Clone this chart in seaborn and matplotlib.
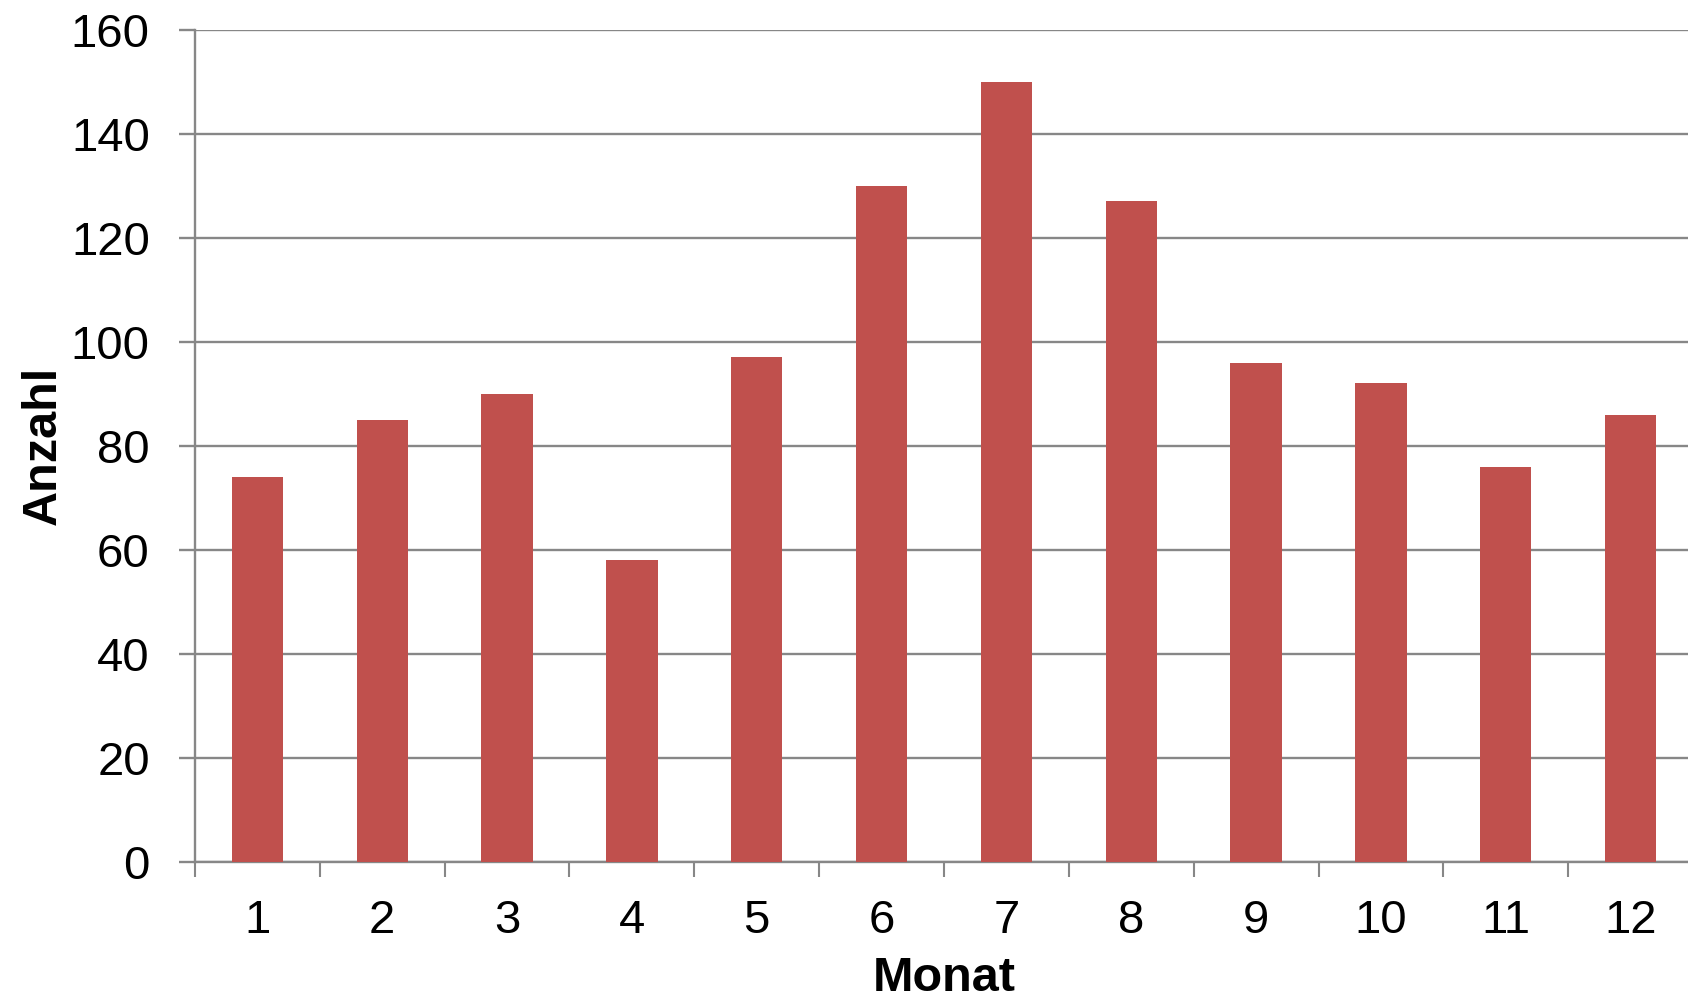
import matplotlib
matplotlib.use("Agg")
import matplotlib.pyplot as plt
import numpy as np
import pandas as pd
import seaborn as sns

months = ["1", "2", "3", "4", "5", "6", "7", "8", "9", "10", "11", "12"]
counts = [74, 85, 90, 58, 97, 130, 150, 127, 96, 92, 76, 86]
y_ticks = [0, 20, 40, 60, 80, 100, 120, 140, 160]

bar_color = "#C0504D"
grid_color = "#878787"

sns.set_style("white")
plt.rcParams["font.family"] = ["Liberation Sans", "DejaVu Sans"]
plt.rcParams["text.color"] = "black"
plt.rcParams["axes.labelcolor"] = "black"
plt.rcParams["xtick.color"] = "black"
plt.rcParams["ytick.color"] = "black"

df = pd.DataFrame({"Monat": months, "Anzahl": counts})

fig = plt.figure(figsize=(16.88, 10), dpi=100)
ax = fig.add_axes([195 / 1688, 1 - 861.7 / 1000, 1498 / 1688, (861.7 - 29.8) / 1000])

sns.barplot(data=df, x="Monat", y="Anzahl", order=months, color=bar_color,
            saturation=1, width=0.41, linewidth=0, ax=ax, zorder=3)

ax.set_xlim(-0.5, 11.5)
ax.set_ylim(0, 160)
ax.set_yticks(y_ticks)
ax.yaxis.grid(True, color=grid_color, linewidth=1.7, zorder=0)
ax.set_axisbelow(True)

for s in ["top", "right"]:
    ax.spines[s].set_visible(False)
ax.spines["left"].set_color(grid_color)
ax.spines["left"].set_linewidth(1.7)
ax.spines["bottom"].set_color(grid_color)
ax.spines["bottom"].set_linewidth(1.7)

ax.set_xticks(np.arange(-0.5, 12, 1), minor=True)
ax.tick_params(axis="x", which="major", length=0, pad=27, labelsize=34, labelcolor="black")
ax.tick_params(axis="x", which="minor", bottom=True, length=11, width=1.5,
               color=grid_color, direction="out")
ax.tick_params(axis="y", which="major", length=11.5, width=1.7, color=grid_color,
               direction="out", pad=21, labelsize=34, left=True, labelcolor="black")

ax.set_xlabel("Monat", fontsize=35, fontweight="bold", labelpad=9, color="black")
ax.set_ylabel("Anzahl", fontsize=35, fontweight="bold", labelpad=4, color="black")

fig.savefig("out.png", dpi=100)
